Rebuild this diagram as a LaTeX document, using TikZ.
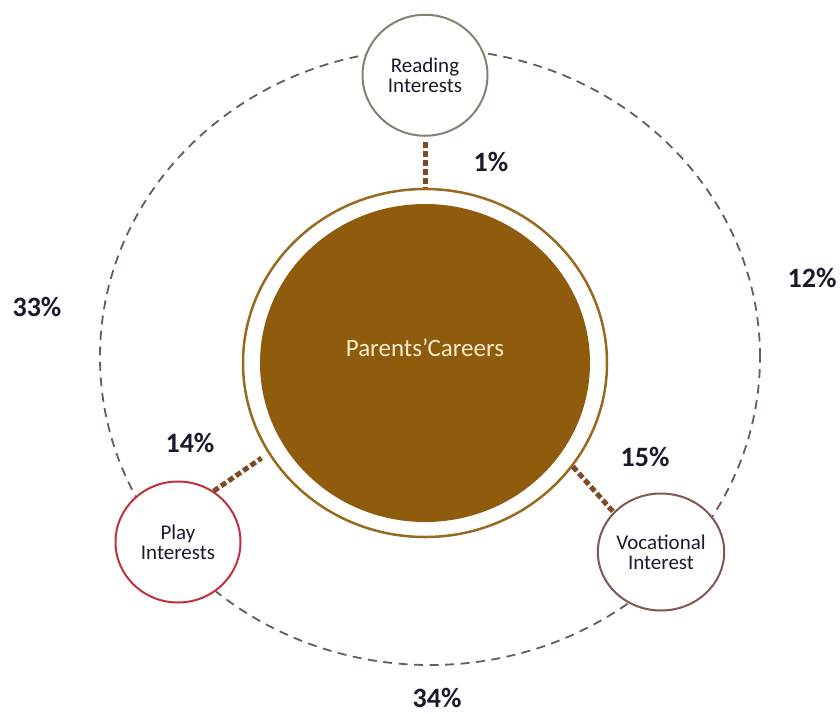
\documentclass[tikz,border=0pt]{standalone}
\usepackage{fontspec}
\setmainfont{Carlito}
\usetikzlibrary{positioning,shapes.geometric}
\definecolor{hubbrown}{RGB}{143,91,12}
\definecolor{ringgold}{RGB}{152,106,32}
\definecolor{linkbrown}{RGB}{128,74,36}
\definecolor{orbitgray}{RGB}{108,90,86}
\definecolor{readgray}{RGB}{135,128,112}
\definecolor{playred}{RGB}{190,48,62}
\definecolor{vocbrown}{RGB}{128,88,82}
\definecolor{ink}{RGB}{26,26,44}
\definecolor{cream}{RGB}{250,236,204}

\begin{document}
\begin{tikzpicture}[x=1pt,y=-1pt,
  bubble/.style={ellipse,draw,line width=2pt,fill=white,minimum width=125pt,minimum height=121pt,inner sep=0pt,align=center,text=ink,font=\fontsize{21}{20}\selectfont},
  pct/.style={text=ink,inner sep=1pt,font=\fontsize{28}{28}\selectfont\bfseries},
  link/.style={draw=linkbrown,line width=5pt,dash pattern=on 6pt off 3pt}]
\useasboundingbox (0,0) rectangle (840,713);
\draw[orbitgray,line width=1.8pt,dash pattern=on 9pt off 6.5pt] (430,357) ellipse [x radius=330pt,y radius=308pt];
\node[ellipse,draw=ringgold,line width=2.5pt,minimum width=364pt,minimum height=348pt] (ring) at (425,363) {};
\node[ellipse,fill=hubbrown,minimum width=330pt,minimum height=318pt] (par) at (ring) {};
\node[text=cream,font=\fontsize{25}{25}\selectfont] (partxt) at ([yshift=15pt]par.center) {Parents’Careers};
\node[bubble,draw=readgray,above=51pt of ring] (rd) {Reading\\Interests};
\node[bubble,draw=playred] (ply) at (178,542) {Play\\Interests};
\node[bubble,draw=vocbrown,minimum height=117pt] (voc) at (661,552) {Vocational\\Interest};
\draw[link,shorten <=5pt] (rd) -- (ring);
\draw[link,shorten >=8pt] (ply.55) -- (ring.210);
\draw[link] (ring.325) -- (voc.140);
\node[pct] (p1) at (491,162) {1\%};
\node[pct] (p12) at (812,278) {12\%};
\node[pct] (p33) at (37,307) {33\%};
\node[pct] (p14) at (190,443) {14\%};
\node[pct] (p15) at (645,457) {15\%};
\node[pct] (p34) at (437,698) {34\%};
\end{tikzpicture}
\end{document}
